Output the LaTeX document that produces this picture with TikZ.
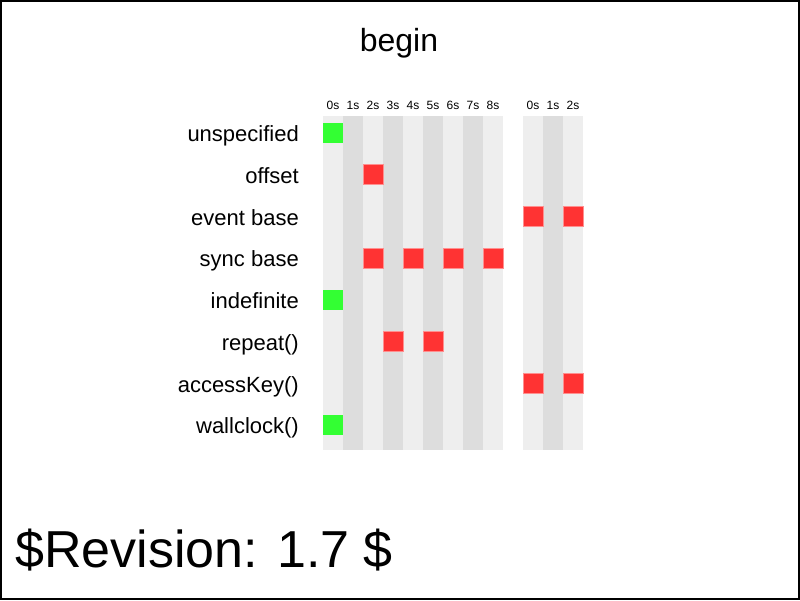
\documentclass[tikz,border=0pt]{standalone}
\usepackage{fontspec}
\setmainfont{Liberation Sans}
\usepackage{tikz}
\usepackage{xcolor}
\usetikzlibrary{shapes, positioning}

\definecolor{lightcol}{HTML}{EEEEEE}
\definecolor{darkcol}{HTML}{DDDDDD}
\definecolor{hitred}{HTML}{FF3333}
\definecolor{passgreen}{HTML}{33FF33}

\begin{document}
\begin{tikzpicture}[x=1pt, y=-1pt,
        rowlabel/.style={anchor=base east, inner sep=0pt, font=\fontsize{22}{26}\selectfont},
        tick/.style={anchor=base, inner sep=0pt, font=\fontsize{12}{14}\selectfont},
        hit/.style={rectangle, fill=hitred, draw=hitred!55!white, line width=0.6pt, minimum size=20pt, inner sep=0pt},
        pass/.style={rectangle, fill=passgreen, minimum size=20pt, inner sep=0pt}]
        \useasboundingbox (0,0) rectangle (800,600);
        \draw[line width=2pt] (1,1) rectangle (799,599);

        \node[anchor=base, font=\fontsize{32}{38}\selectfont] (title) at (399,51) {begin};

        % time columns
        \fill[lightcol] (323,116) rectangle (343,450);
        \fill[darkcol] (343,116) rectangle (363,450);
        \fill[lightcol] (363,116) rectangle (383,450);
        \fill[darkcol] (383,116) rectangle (403,450);
        \fill[lightcol] (403,116) rectangle (423,450);
        \fill[darkcol] (423,116) rectangle (443,450);
        \fill[lightcol] (443,116) rectangle (463,450);
        \fill[darkcol] (463,116) rectangle (483,450);
        \fill[lightcol] (483,116) rectangle (503,450);

        \fill[lightcol] (523,116) rectangle (543,450);
        \fill[darkcol] (543,116) rectangle (563,450);
        \fill[lightcol] (563,116) rectangle (583,450);

        \node[tick] (t0) at (333,109) {0s};
        \node[tick] (t1) at (353,109) {1s};
        \node[tick] (t2) at (373,109) {2s};
        \node[tick] (t3) at (393,109) {3s};
        \node[tick] (t4) at (413,109) {4s};
        \node[tick] (t5) at (433,109) {5s};
        \node[tick] (t6) at (453,109) {6s};
        \node[tick] (t7) at (473,109) {7s};
        \node[tick] (t8) at (493,109) {8s};
        \node[tick] (e0) at (533,109) {0s};
        \node[tick] (e1) at (553,109) {1s};
        \node[tick] (e2) at (573,109) {2s};

        \node[rowlabel] (lunspec) at (299,141.5) {unspecified};
        \node[rowlabel] (loffset) at (299,183.25) {offset};
        \node[rowlabel] (levent) at (299,225) {event base};
        \node[rowlabel] (lsync) at (299,266.75) {sync base};
        \node[rowlabel] (lindef) at (299,308.5) {indefinite};
        \node[rowlabel] (lrepeat) at (299,350.25) {repeat()};
        \node[rowlabel] (laccess) at (299,392) {accessKey()};
        \node[rowlabel] (lwall) at (299,433.75) {wallclock()};

        \node[pass] (unspec0) at (333,133) {};
        \node[hit] (offset2) at (373,174.75) {};
        \node[hit] (event0) at (533,216.5) {};
        \node[hit] (event2) at (573,216.5) {};
        \node[hit] (sync2) at (373,258.25) {};
        \node[hit] (sync4) at (413,258.25) {};
        \node[hit] (sync6) at (453,258.25) {};
        \node[hit] (sync8) at (493,258.25) {};
        \node[pass] (indef0) at (333,300) {};
        \node[hit] (repeat3) at (393,341.75) {};
        \node[hit] (repeat5) at (433,341.75) {};
        \node[hit] (access0) at (533,383.5) {};
        \node[hit] (access2) at (573,383.5) {};
        \node[pass] (wall0) at (333,425.25) {};

        \node[anchor=base west, inner sep=0pt, font=\fontsize{52}{60}\selectfont] (rev) at (15,567) {\$Revision: 1.7 \$};
    \end{tikzpicture}
\end{document}
